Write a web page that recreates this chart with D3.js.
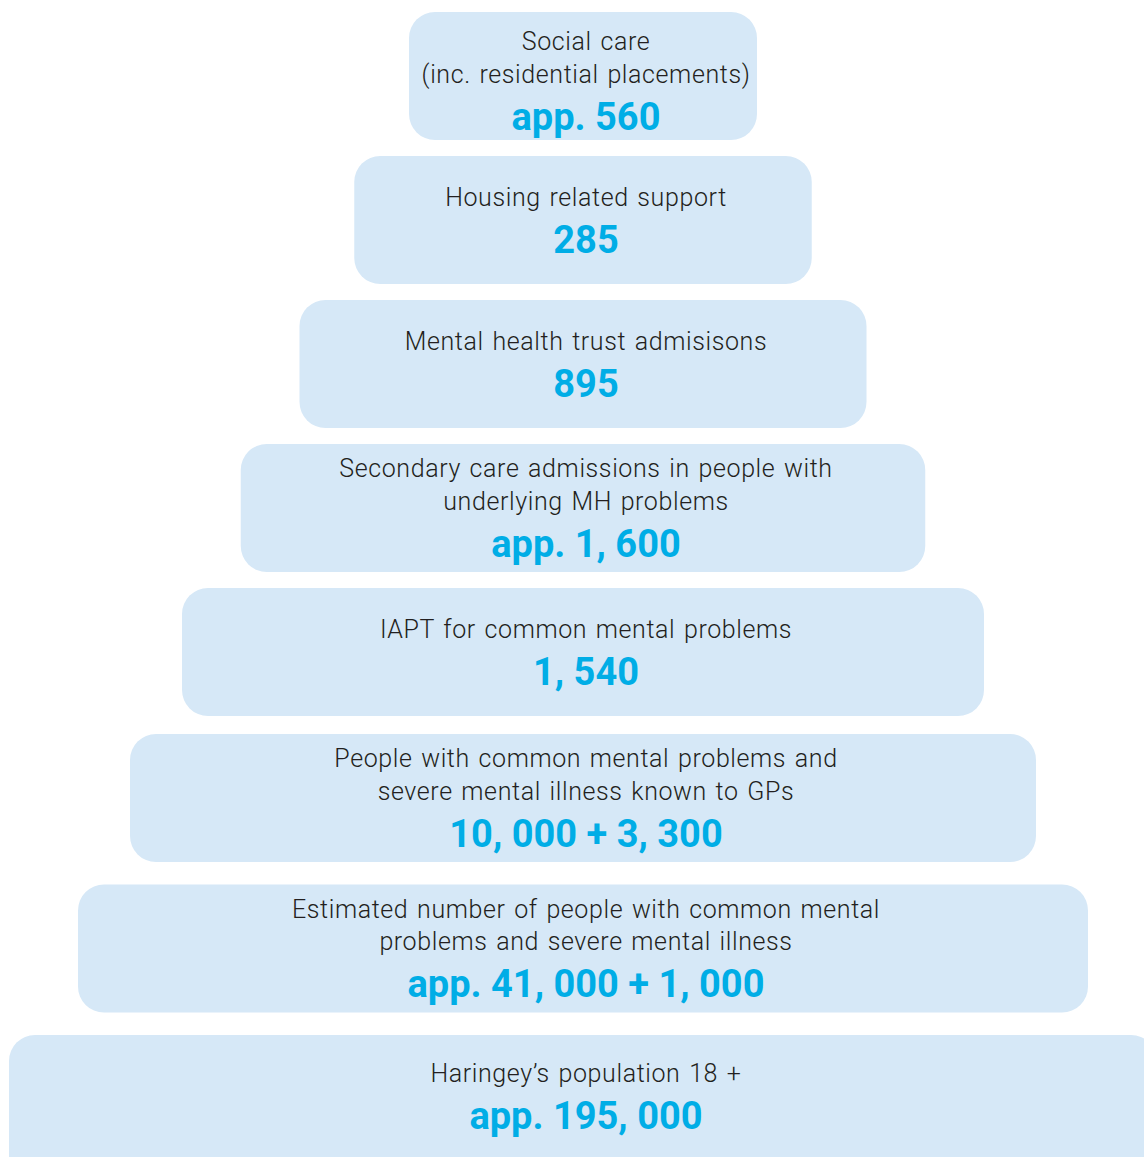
<!DOCTYPE html>
<html>
<head>
<meta charset="utf-8">
<script src="https://cdn.jsdelivr.net/npm/d3@7"></script>
<style>
  body { margin: 0; background: #fff; }
  svg { display: block; }
</style>
</head>
<body>
<div id="chart-area"></div>
<script>
// pyramid levels, top to bottom
const labels = [
    ["Social care", "(inc. residential placements)"],
    ["Housing related support"],
    ["Mental health trust admisisons"],
    ["Secondary care admissions in people with", "underlying MH problems"],
    ["IAPT for common mental problems"],
    ["People with common mental problems and", "severe mental illness known to GPs"],
    ["Estimated number of people with common mental", "problems and severe mental illness"],
    ["Haringey\u2019s population 18 +"]
];
const values = [
    "app. 560",
    "285",
    "895",
    "app. 1, 600",
    "1, 540",
    "10, 000 + 3, 300",
    "app. 41, 000 + 1, 000",
    "app. 195, 000"
];

let w = 1144;
let h = 1157;
let cx = 583;
let boxH = 128;
let lineGap = 32.5;
let valueGap = 42.5;

let svg = d3.select("#chart-area")
    .append("svg")
    .attr("width", w)
    .attr("height", h);

let idx = d3.range(labels.length);

// level -> top of box
let yScale = d3.scaleLinear()
    .domain([0, 4, 5, 7])
    .range([12, 588, 734, 1035]);

// level -> box width
let widthScale = d3.scaleLinear()
    .domain([0, 2, 4, 6, 7])
    .range([348, 567, 802, 1010, 1148]);

let level = svg.selectAll("g.level")
    .data(idx)
    .enter()
    .append("g")
    .attr("class", "level")
    .attr("transform", (i) => "translate(0," + yScale(i) + ")");

level.append("rect")
    .attr("x", (i) => cx - widthScale(i) / 2)
    .attr("y", 0)
    .attr("width", (i) => widthScale(i))
    .attr("height", (i) => i === 7 ? boxH + 40 : boxH)
    .attr("rx", 26)
    .attr("ry", 26)
    .attr("fill", "#d6e8f7");

// text block sits roughly in the middle of the box
let blockTop = (i) => {
    let n = labels[i].length;
    let blockH = (n - 1) * lineGap + valueGap;
    let mid = i === 0 ? 67 : (i === 7 ? 59 : 62);
    return mid - blockH / 2;
};

level.each(function(i) {
    let g = d3.select(this);
    let top = blockTop(i);
    labels[i].forEach((line, k) => {
        g.append("text")
            .attr("x", cx + 3)
            .attr("y", top + k * lineGap)
            .attr("dy", "0.35em")
            .attr("text-anchor", "middle")
            .attr("font-family", "Roboto, 'Open Sans', sans-serif")
            .attr("font-weight", 300)
            .attr("font-size", 25)
            .attr("letter-spacing", 0.6)
            .attr("word-spacing", 2)
            .attr("fill", "#231f20")
            .text(line);
    });
    g.append("text")
        .attr("x", cx + 3)
        .attr("y", top + (labels[i].length - 1) * lineGap + valueGap)
        .attr("dy", "0.35em")
        .attr("text-anchor", "middle")
        .attr("font-family", "Roboto, 'Open Sans', sans-serif")
        .attr("font-weight", 700)
        .attr("font-size", 38)
        .attr("fill", "#00ade6")
        .text(values[i]);
});
</script>
</body>
</html>
